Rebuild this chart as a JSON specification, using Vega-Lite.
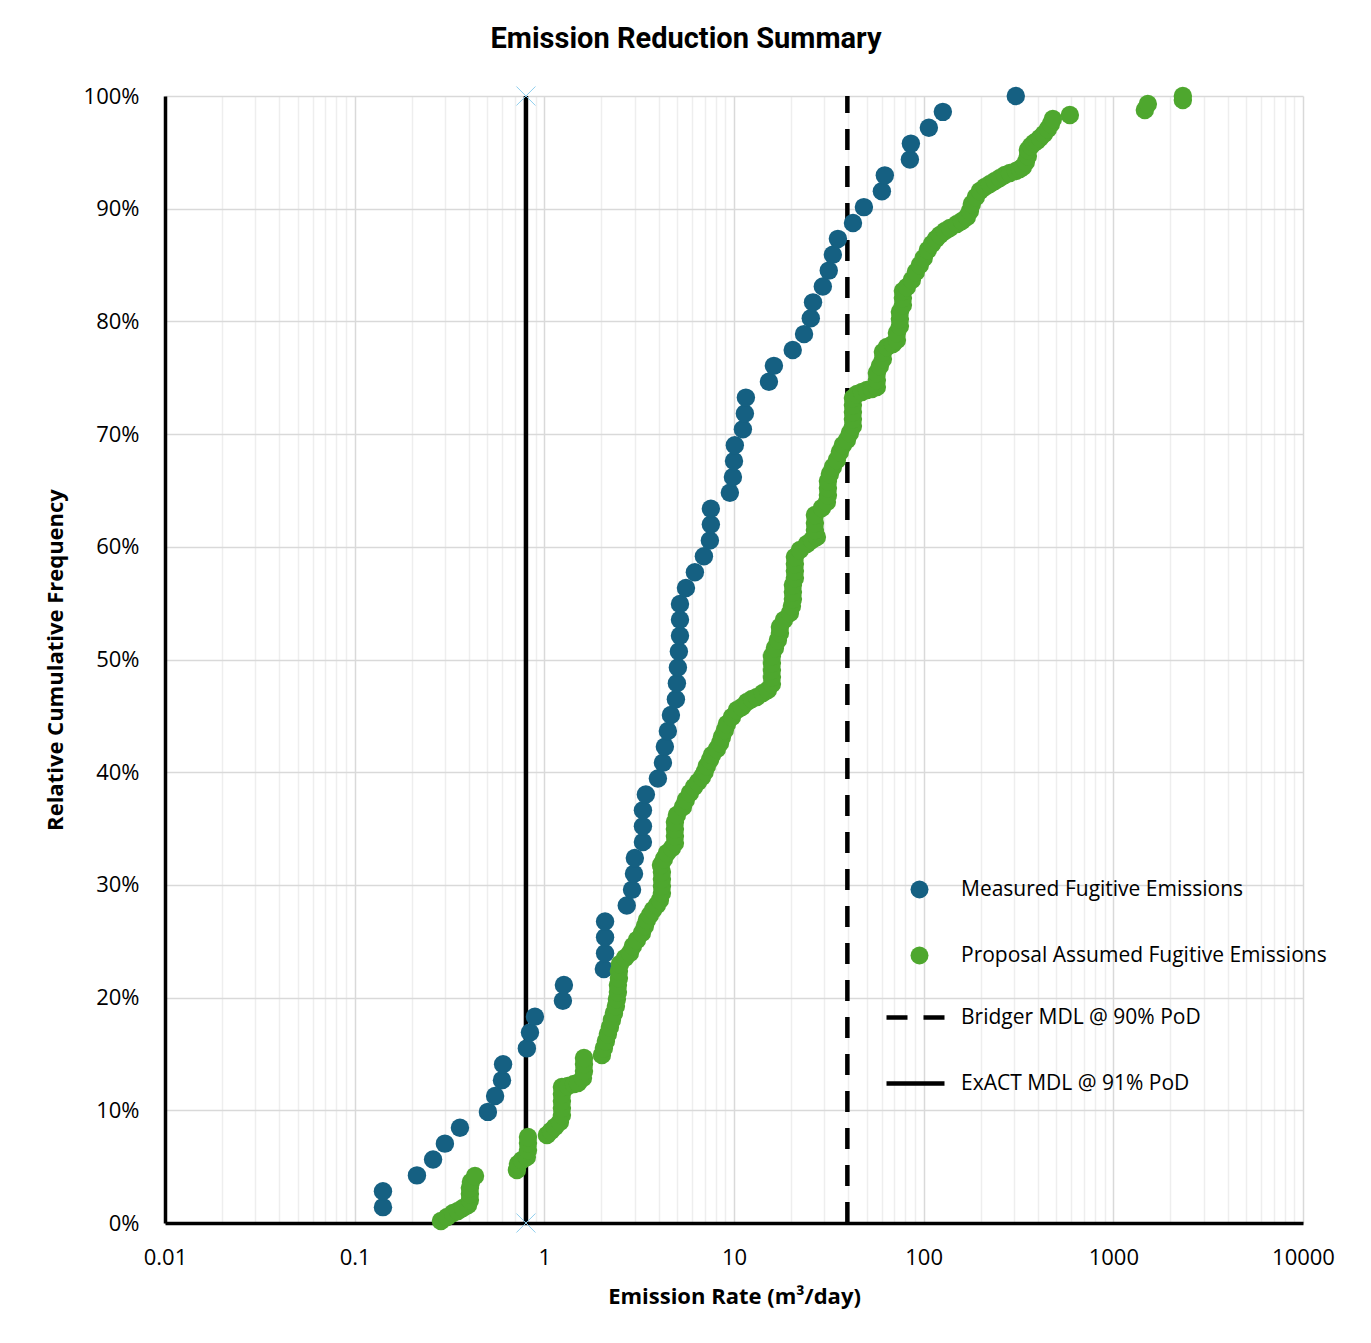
{
 "$schema": "https://vega.github.io/schema/vega-lite/v6.json",
 "width": 1138,
 "height": 1127,
 "autosize": {"type": "none"},
 "padding": {"left": 165, "top": 96, "right": 68, "bottom": 120},
 "background": "white",
 "config": {"view": {"stroke": null}, "font": "Open Sans"},
 "title": {"text": "Emission Reduction Summary", "fontSize": 29, "fontWeight": "bold", "font": "Roboto", "color": "#000", "anchor": "middle", "dx": -48, "offset": 31},
 "datasets": {
  "bridger": [{"rate": 39.6, "freq": 0}, {"rate": 39.6, "freq": 100}],
  "exact": [{"rate": 0.8, "freq": 0}, {"rate": 0.8, "freq": 100}],
  "measured": [
   {"rate": 0.141, "freq": 1.408}, {"rate": 0.141, "freq": 2.817}, {"rate": 0.213, "freq": 4.225}, {"rate": 0.259, "freq": 5.634},
   {"rate": 0.299, "freq": 7.042}, {"rate": 0.359, "freq": 8.451}, {"rate": 0.504, "freq": 9.859}, {"rate": 0.55, "freq": 11.268},
   {"rate": 0.598, "freq": 12.676}, {"rate": 0.606, "freq": 14.085}, {"rate": 0.809, "freq": 15.493}, {"rate": 0.84, "freq": 16.901},
   {"rate": 0.892, "freq": 18.31}, {"rate": 1.253, "freq": 19.718}, {"rate": 1.268, "freq": 21.127}, {"rate": 2.06, "freq": 22.535},
   {"rate": 2.09, "freq": 23.944}, {"rate": 2.09, "freq": 25.352}, {"rate": 2.09, "freq": 26.761}, {"rate": 2.72, "freq": 28.169},
   {"rate": 2.9, "freq": 29.577}, {"rate": 2.97, "freq": 30.986}, {"rate": 3.0, "freq": 32.394}, {"rate": 3.31, "freq": 33.803},
   {"rate": 3.31, "freq": 35.211}, {"rate": 3.31, "freq": 36.62}, {"rate": 3.43, "freq": 38.028}, {"rate": 3.97, "freq": 39.437},
   {"rate": 4.22, "freq": 40.845}, {"rate": 4.32, "freq": 42.254}, {"rate": 4.48, "freq": 43.662}, {"rate": 4.65, "freq": 45.07},
   {"rate": 4.94, "freq": 46.479}, {"rate": 5.0, "freq": 47.887}, {"rate": 5.06, "freq": 49.296}, {"rate": 5.12, "freq": 50.704},
   {"rate": 5.19, "freq": 52.113}, {"rate": 5.19, "freq": 53.521}, {"rate": 5.19, "freq": 54.93}, {"rate": 5.58, "freq": 56.338},
   {"rate": 6.22, "freq": 57.746}, {"rate": 6.94, "freq": 59.155}, {"rate": 7.46, "freq": 60.563}, {"rate": 7.55, "freq": 61.972},
   {"rate": 7.55, "freq": 63.38}, {"rate": 9.51, "freq": 64.789}, {"rate": 9.87, "freq": 66.197}, {"rate": 10.0, "freq": 67.606},
   {"rate": 10.1, "freq": 69.014}, {"rate": 11.14, "freq": 70.423}, {"rate": 11.41, "freq": 71.831}, {"rate": 11.55, "freq": 73.239},
   {"rate": 15.28, "freq": 74.648}, {"rate": 16.23, "freq": 76.056}, {"rate": 20.4, "freq": 77.465}, {"rate": 23.4, "freq": 78.873},
   {"rate": 25.4, "freq": 80.282}, {"rate": 26.1, "freq": 81.69}, {"rate": 29.4, "freq": 83.099}, {"rate": 31.6, "freq": 84.507},
   {"rate": 33.2, "freq": 85.915}, {"rate": 35.3, "freq": 87.324}, {"rate": 42.4, "freq": 88.732}, {"rate": 48.4, "freq": 90.141},
   {"rate": 60.2, "freq": 91.549}, {"rate": 62.4, "freq": 92.958}, {"rate": 84.6, "freq": 94.366}, {"rate": 85.6, "freq": 95.775},
   {"rate": 106.5, "freq": 97.183}, {"rate": 126.2, "freq": 98.592}, {"rate": 306, "freq": 100}
  ],
  "proposal": [
   {"rate": 0.285, "freq": 0.18}, {"rate": 0.307, "freq": 0.53}, {"rate": 0.33, "freq": 0.89}, {"rate": 0.35, "freq": 1.06},
   {"rate": 0.372, "freq": 1.33}, {"rate": 0.396, "freq": 1.6}, {"rate": 0.405, "freq": 2.04}, {"rate": 0.405, "freq": 2.57},
   {"rate": 0.405, "freq": 3.11}, {"rate": 0.41, "freq": 3.64}, {"rate": 0.431, "freq": 4.17}, {"rate": 0.717, "freq": 4.7},
   {"rate": 0.726, "freq": 5.24}, {"rate": 0.762, "freq": 5.59}, {"rate": 0.809, "freq": 5.86}, {"rate": 0.82, "freq": 6.48},
   {"rate": 0.82, "freq": 7.1}, {"rate": 0.82, "freq": 7.63}, {"rate": 1.032, "freq": 7.81}, {"rate": 1.083, "freq": 8.16},
   {"rate": 1.137, "freq": 8.52}, {"rate": 1.208, "freq": 8.96}, {"rate": 1.238, "freq": 9.58}, {"rate": 1.238, "freq": 10.2},
   {"rate": 1.238, "freq": 10.83}, {"rate": 1.238, "freq": 11.45}, {"rate": 1.238, "freq": 12.07}, {"rate": 1.331, "freq": 12.16},
   {"rate": 1.432, "freq": 12.33}, {"rate": 1.504, "freq": 12.42}, {"rate": 1.598, "freq": 12.87}, {"rate": 1.618, "freq": 13.49},
   {"rate": 1.618, "freq": 14.11}, {"rate": 1.618, "freq": 14.64}, {"rate": 2.012, "freq": 14.91}, {"rate": 2.061, "freq": 15.53},
   {"rate": 2.112, "freq": 16.15}, {"rate": 2.163, "freq": 16.77}, {"rate": 2.217, "freq": 17.39}, {"rate": 2.272, "freq": 18.01},
   {"rate": 2.328, "freq": 18.63}, {"rate": 2.384, "freq": 19.25}, {"rate": 2.413, "freq": 19.88}, {"rate": 2.443, "freq": 20.5},
   {"rate": 2.443, "freq": 21.12}, {"rate": 2.473, "freq": 21.74}, {"rate": 2.473, "freq": 22.36}, {"rate": 2.503, "freq": 22.98},
   {"rate": 2.66, "freq": 23.51}, {"rate": 2.827, "freq": 23.96}, {"rate": 2.931, "freq": 24.58}, {"rate": 3.077, "freq": 25.11},
   {"rate": 3.27, "freq": 25.73}, {"rate": 3.39, "freq": 26.35}, {"rate": 3.475, "freq": 26.89}, {"rate": 3.604, "freq": 27.33},
   {"rate": 3.737, "freq": 27.77}, {"rate": 3.924, "freq": 28.22}, {"rate": 4.069, "freq": 28.66}, {"rate": 4.169, "freq": 29.28},
   {"rate": 4.169, "freq": 29.9}, {"rate": 4.169, "freq": 30.52}, {"rate": 4.169, "freq": 31.14}, {"rate": 4.12, "freq": 31.77},
   {"rate": 4.27, "freq": 32.3}, {"rate": 4.43, "freq": 32.83}, {"rate": 4.707, "freq": 33.27}, {"rate": 4.881, "freq": 33.72},
   {"rate": 4.881, "freq": 34.34}, {"rate": 4.881, "freq": 34.96}, {"rate": 4.881, "freq": 35.58}, {"rate": 5.001, "freq": 36.2},
   {"rate": 5.378, "freq": 36.91}, {"rate": 5.57, "freq": 37.53}, {"rate": 5.854, "freq": 38.15}, {"rate": 6.148, "freq": 38.69},
   {"rate": 6.453, "freq": 39.13}, {"rate": 6.773, "freq": 39.57}, {"rate": 7.0, "freq": 40.02}, {"rate": 7.197, "freq": 40.55},
   {"rate": 7.46, "freq": 41.08}, {"rate": 7.647, "freq": 41.53}, {"rate": 8.128, "freq": 42.06}, {"rate": 8.44, "freq": 42.59},
   {"rate": 8.636, "freq": 43.12}, {"rate": 8.95, "freq": 43.74}, {"rate": 9.176, "freq": 44.28}, {"rate": 9.75, "freq": 44.9},
   {"rate": 10.36, "freq": 45.52}, {"rate": 11.01, "freq": 45.79}, {"rate": 11.7, "freq": 46.23}, {"rate": 12.43, "freq": 46.5},
   {"rate": 13.2, "freq": 46.67}, {"rate": 14.2, "freq": 47.03}, {"rate": 15.09, "freq": 47.29}, {"rate": 15.84, "freq": 47.83},
   {"rate": 15.84, "freq": 48.45}, {"rate": 15.84, "freq": 49.07}, {"rate": 15.84, "freq": 49.69}, {"rate": 15.84, "freq": 50.31},
   {"rate": 16.43, "freq": 51.02}, {"rate": 17.04, "freq": 51.73}, {"rate": 17.46, "freq": 52.35}, {"rate": 17.46, "freq": 52.88},
   {"rate": 18.33, "freq": 53.5}, {"rate": 19.71, "freq": 54.13}, {"rate": 20.2, "freq": 54.75}, {"rate": 20.44, "freq": 55.37},
   {"rate": 20.44, "freq": 55.99}, {"rate": 20.44, "freq": 56.61}, {"rate": 20.94, "freq": 57.23}, {"rate": 20.94, "freq": 57.85},
   {"rate": 20.94, "freq": 58.47}, {"rate": 20.94, "freq": 59.09}, {"rate": 22.25, "freq": 59.72}, {"rate": 24.23, "freq": 60.25},
   {"rate": 25.74, "freq": 60.6}, {"rate": 27.35, "freq": 60.87}, {"rate": 26.7, "freq": 61.49}, {"rate": 26.7, "freq": 62.11},
   {"rate": 26.7, "freq": 62.82}, {"rate": 29.05, "freq": 63.44}, {"rate": 30.89, "freq": 63.97}, {"rate": 31.27, "freq": 64.6},
   {"rate": 31.27, "freq": 65.22}, {"rate": 31.27, "freq": 65.84}, {"rate": 32.03, "freq": 66.46}, {"rate": 33.22, "freq": 67.08},
   {"rate": 34.86, "freq": 67.7}, {"rate": 36.16, "freq": 68.41}, {"rate": 37.5, "freq": 69.03}, {"rate": 39.38, "freq": 69.48},
   {"rate": 40.83, "freq": 70.1}, {"rate": 42.35, "freq": 70.72}, {"rate": 42.35, "freq": 71.34}, {"rate": 42.35, "freq": 71.96},
   {"rate": 42.35, "freq": 72.58}, {"rate": 42.35, "freq": 73.2}, {"rate": 44.46, "freq": 73.56}, {"rate": 47.24, "freq": 73.74},
   {"rate": 50.19, "freq": 73.91}, {"rate": 53.33, "freq": 74.0}, {"rate": 56.66, "freq": 74.18}, {"rate": 56.66, "freq": 74.8},
   {"rate": 56.66, "freq": 75.42}, {"rate": 58.75, "freq": 76.04}, {"rate": 60.95, "freq": 76.66}, {"rate": 60.95, "freq": 77.29},
   {"rate": 63.97, "freq": 77.73}, {"rate": 68.81, "freq": 77.99}, {"rate": 72.25, "freq": 78.35}, {"rate": 72.25, "freq": 78.97},
   {"rate": 74.92, "freq": 79.59}, {"rate": 74.92, "freq": 80.21}, {"rate": 74.92, "freq": 80.83}, {"rate": 77.7, "freq": 81.46},
   {"rate": 77.7, "freq": 82.08}, {"rate": 77.7, "freq": 82.7}, {"rate": 81.55, "freq": 83.05}, {"rate": 86.66, "freq": 83.67},
   {"rate": 90.97, "freq": 84.38}, {"rate": 95.45, "freq": 85.0}, {"rate": 100.1, "freq": 85.63}, {"rate": 105.2, "freq": 86.34},
   {"rate": 110.5, "freq": 86.87}, {"rate": 116.0, "freq": 87.31}, {"rate": 121.7, "freq": 87.67}, {"rate": 129.4, "freq": 88.02},
   {"rate": 137.4, "freq": 88.29}, {"rate": 149.6, "freq": 88.64}, {"rate": 159.0, "freq": 88.91}, {"rate": 169.0, "freq": 89.26},
   {"rate": 175.3, "freq": 89.8}, {"rate": 179.5, "freq": 90.42}, {"rate": 188.5, "freq": 91.04}, {"rate": 197.8, "freq": 91.57},
   {"rate": 210.2, "freq": 91.93}, {"rate": 223.4, "freq": 92.19}, {"rate": 237.3, "freq": 92.46}, {"rate": 252.2, "freq": 92.72},
   {"rate": 267.9, "freq": 92.99}, {"rate": 284.7, "freq": 93.17}, {"rate": 306.2, "freq": 93.35}, {"rate": 321.6, "freq": 93.52},
   {"rate": 333.4, "freq": 93.7}, {"rate": 345.7, "freq": 94.14}, {"rate": 354.2, "freq": 94.68}, {"rate": 354.2, "freq": 95.21},
   {"rate": 367.3, "freq": 95.56}, {"rate": 381.0, "freq": 95.83}, {"rate": 395.3, "freq": 96.01}, {"rate": 409.9, "freq": 96.27},
   {"rate": 430.3, "freq": 96.63}, {"rate": 451.7, "freq": 97.07}, {"rate": 468.4, "freq": 97.52}, {"rate": 479.8, "freq": 97.96},
   {"rate": 589.8, "freq": 98.31}, {"rate": 1466, "freq": 98.76}, {"rate": 1520, "freq": 99.29}, {"rate": 2325, "freq": 99.65},
   {"rate": 2325, "freq": 100}
  ]
 },
 "encoding": {
  "x": {
   "field": "rate", "type": "quantitative",
   "scale": {"type": "log", "domain": [0.01, 10000], "nice": false},
   "title": "Emission Rate (m³/day)",
   "axis": {
    "values": [0.01,0.02,0.03,0.04,0.05,0.06,0.07,0.08,0.09,0.1,0.2,0.3,0.4,0.5,0.6,0.7,0.8,0.9,1,2,3,4,5,6,7,8,9,10,20,30,40,50,60,70,80,90,100,200,300,400,500,600,700,800,900,1000,2000,3000,4000,5000,6000,7000,8000,9000,10000],
    "labelExpr": "abs(log(datum.value)/LN10 - round(log(datum.value)/LN10)) < 0.001 ? format(datum.value, '~g') : ''",
    "gridColor": {"condition": {"test": "abs(log(datum.value)/LN10 - round(log(datum.value)/LN10)) < 0.001", "value": "#d9d9d9"}, "value": "#eeeeee"},
    "gridWidth": 1.5,
    "ticks": false,
    "domainColor": "#000", "domainWidth": 3.5,
    "labelFontSize": 22, "labelColor": "#000", "labelPadding": 24, "labelOverlap": false, "labelFlush": false,
    "titleFontSize": 22, "titleFontWeight": "bold", "titleColor": "#000", "titlePadding": 18
   }
  },
  "y": {
   "field": "freq", "type": "quantitative",
   "scale": {"domain": [0, 100], "nice": false},
   "title": "Relative Cumulative Frequency",
   "axis": {
    "values": [0,10,20,30,40,50,60,70,80,90,100],
    "labelExpr": "datum.value + '%'",
    "gridColor": "#d9d9d9", "gridWidth": 1.5,
    "ticks": false,
    "domainColor": "#000", "domainWidth": 3.5,
    "labelFontSize": 22, "labelColor": "#000", "labelPadding": 26, "labelFlush": false,
    "titleFontSize": 22, "titleFontWeight": "bold", "titleColor": "#000", "titlePadding": 16
   }
  }
 },
 "layer": [
  {
   "data": {"name": "bridger"},
   "mark": {"type": "line", "color": "black", "strokeWidth": 4.5},
   "encoding": {
    "strokeDash": {
     "datum": "Bridger MDL @ 90% PoD", "type": "nominal",
     "scale": {"domain": ["Bridger MDL @ 90% PoD", "ExACT MDL @ 91% PoD"], "range": [[21, 16], [1, 0]]},
     "legend": {"orient": "none", "legendX": 719, "legendY": 890, "title": null, "symbolType": "stroke", "symbolSize": 3364, "symbolStrokeWidth": 4.5, "symbolStrokeColor": "black", "labelFontSize": 21, "labelColor": "#000", "labelOffset": 14, "labelLimit": 600, "rowPadding": 24, "padding": 0}
    }
   }
  },
  {
   "data": {"name": "exact"},
   "mark": {"type": "line", "color": "black", "strokeWidth": 4.5},
   "encoding": {"strokeDash": {"datum": "ExACT MDL @ 91% PoD", "type": "nominal"}}
  },
  {
   "data": {"name": "exact"},
   "mark": {"type": "point", "shape": "M-1,-1L1,1M-1,1L1,-1", "size": 361, "filled": false, "stroke": "#8fcfee", "strokeWidth": 1, "opacity": 1},
   "encoding": {}
  },
  {
   "data": {"name": "measured"},
   "mark": {"type": "point", "filled": true, "size": 340, "opacity": 1, "strokeWidth": 0},
   "encoding": {
    "color": {
     "datum": "Measured Fugitive Emissions", "type": "nominal",
     "scale": {"domain": ["Measured Fugitive Emissions", "Proposal Assumed Fugitive Emissions"], "range": ["#156082", "#4EA72E"]},
     "legend": {"orient": "none", "legendX": 744, "legendY": 783, "title": null, "symbolType": "circle", "symbolSize": 324, "labelFontSize": 21, "labelColor": "#000", "labelOffset": 31, "labelLimit": 600, "rowPadding": 44, "padding": 0}
    }
   }
  },
  {
   "data": {"name": "proposal"},
   "mark": {"type": "point", "filled": true, "size": 340, "opacity": 1, "strokeWidth": 0},
   "encoding": {"color": {"datum": "Proposal Assumed Fugitive Emissions", "type": "nominal"}}
  }
 ]
}
